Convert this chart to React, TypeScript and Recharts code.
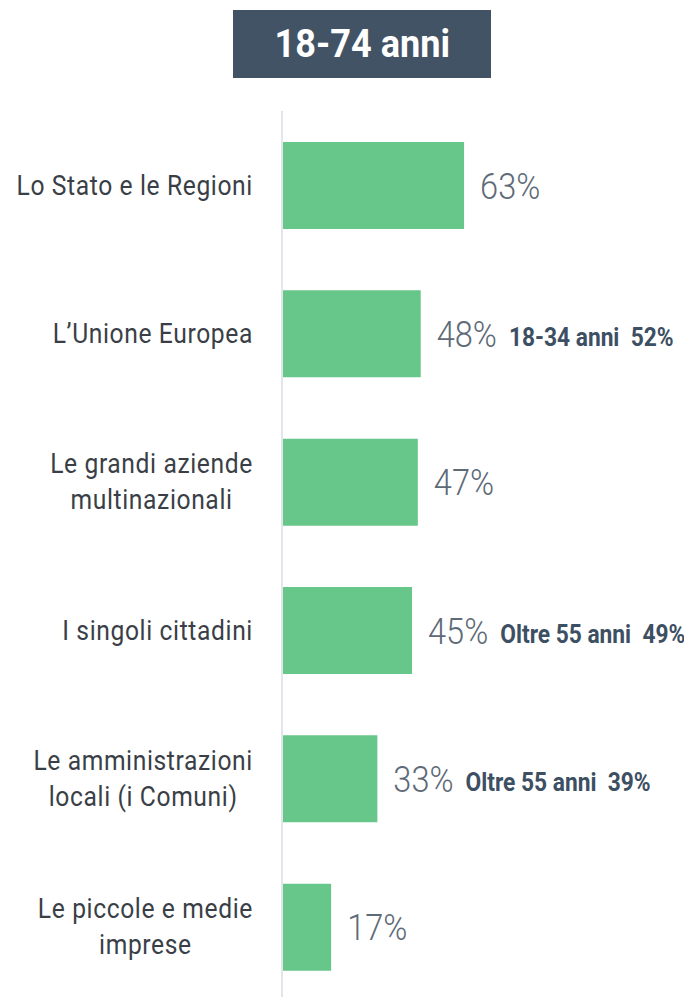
import { BarChart, Bar, XAxis, YAxis, LabelList } from 'recharts';

// categories (\n = line break in the axis label)
const categories = [
  'Lo Stato e le Regioni',
  'L’Unione Europea',
  'Le grandi aziende\nmultinazionali',
  'I singoli cittadini',
  'Le amministrazioni\nlocali (i Comuni)',
  'Le piccole e medie\nimprese',
];
const values = [63, 48, 47, 45, 33, 17];
// extra callouts next to some bars
const noteGroups = ['', '18-34 anni', '', 'Oltre 55 anni', 'Oltre 55 anni', ''];
const noteValues = [null, 52, null, 49, 39, null];

const title = '18-74 anni';

const FONT = "Roboto, 'Noto Sans', sans-serif";
const SQUEEZE = 0.88; // fake a condensed face
const BAR_COLOR = '#67c78a';

const data = categories.map((name, i) => ({
  name,
  value: values[i],
  group: noteGroups[i],
  extra: noteValues[i],
}));

let ctx: CanvasRenderingContext2D | null = null;
function textWidth(text: string, font: string, spacing = 0): number {
  if (!ctx) ctx = document.createElement('canvas').getContext('2d');
  if (!ctx) return text.length * 12;
  ctx.font = font;
  return ctx.measureText(text).width + spacing * text.length;
}

const CategoryTick = (props: any) => {
  const { x, y, payload } = props;
  const lines: string[] = String(payload.value).split('\n');
  const size = 28;
  const spacing = 0.7;
  const lineH = 36;
  const widths = lines.map((l) => textWidth(l, `400 ${size}px Roboto`, spacing) * SQUEEZE);
  const block = Math.max(...widths);
  const cx = x - block / 2;
  const first = y - ((lines.length - 1) * lineH) / 2;
  return (
    <g>
      {lines.map((l, i) => (
        <text
          key={i}
          transform={`translate(${cx},${first + i * lineH}) scale(${SQUEEZE},1)`}
          textAnchor="middle"
          dominantBaseline="central"
          fontFamily={FONT}
          fontSize={size}
          letterSpacing={spacing}
          fill="#3a3f47"
        >
          {l}
        </text>
      ))}
    </g>
  );
};

const ValueLabel = (props: any) => {
  const { x, y, width, height, index } = props;
  const row = data[index];
  const vx = x + width + 16;
  const cy = y + height / 2;
  const valueText = `${row.value}%`;
  const vw = textWidth(valueText, `300 37px Roboto`) * SQUEEZE;
  return (
    <g>
      <text
        transform={`translate(${vx},${cy + 13}) scale(${SQUEEZE},1)`}
        fontFamily={FONT}
        fontWeight={300}
        fontSize={37}
        fill="#5e6a77"
      >
        {valueText}
      </text>
      {row.extra != null && (
        <text
          transform={`translate(${vx + vw + 12},${cy + 12}) scale(0.91,1)`}
          fontFamily={FONT}
          fontWeight={700}
          fontSize={25}
          fill="#3d4f62"
          style={{ whiteSpace: 'pre' }}
        >
          {`${row.group}  ${row.extra}%`}
        </text>
      )}
    </g>
  );
};

export default function App() {
  return (
    <div style={{ position: 'relative', margin: '-8px 0 0 -8px', width: 692, height: 997, overflow: 'hidden', background: '#fff' }}>
      <div
        style={{
          position: 'absolute',
          left: 233,
          top: 10,
          width: 258,
          height: 68,
          background: '#435366',
          display: 'flex',
          alignItems: 'center',
          justifyContent: 'center',
        }}
      >
        <span
          style={{
            color: '#fff',
            fontFamily: FONT,
            fontWeight: 700,
            fontSize: 38,
            display: 'inline-block',
            transform: 'scaleX(0.95)',
            whiteSpace: 'nowrap',
          }}
        >
          {title}
        </span>
      </div>
      <BarChart
        width={692}
        height={1010}
        data={data}
        layout="vertical"
        margin={{ top: 111, right: 121, bottom: 9, left: 0 }}
      >
        <XAxis type="number" domain={[0, 100]} hide />
        <YAxis
          type="category"
          dataKey="name"
          width={282}
          axisLine={{ stroke: '#e2e5e9', strokeWidth: 2 }}
          tickLine={false}
          tickSize={0}
          tickMargin={29}
          tick={<CategoryTick />}
          interval={0}
        />
        <Bar dataKey="value" fill={BAR_COLOR} barSize={87} isAnimationActive={false}>
          <LabelList dataKey="value" content={<ValueLabel />} />
        </Bar>
      </BarChart>
    </div>
  );
}
